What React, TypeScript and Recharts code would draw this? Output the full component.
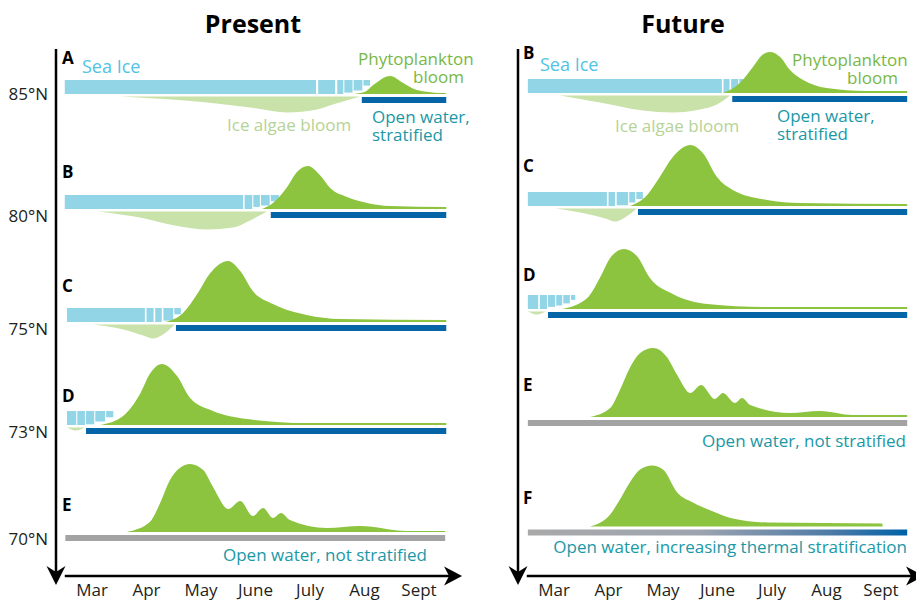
import React from "react";
import {
  ComposedChart,
  Area,
  XAxis,
  YAxis,
  ReferenceArea,
  ReferenceLine,
  ReferenceDot,
} from "recharts";

const FONT = "'Open Sans', 'Noto Sans', sans-serif";

// axis labels
const months = ["Mar", "Apr", "May", "June", "July", "Aug", "Sept"];
const monthTicks = [0, 1, 2, 3, 4, 5, 6];
const latLabels = ["85°N", "80°N", "75°N", "73°N", "70°N"];
const latLevels = [482, 360, 247, 144, 37];

// ---- Present ----
// bloom: [month, height]; algae: [month, depth]; floes: [start, end, thickness]
const presentBloomA = [[4.79, 0], [5.0, 2], [5.16, 9], [5.47, 18], [5.71, 11], [5.96, 4], [6.39, 1], [6.5, 0.8]];
const presentAlgaeA = [[0.51, 0], [2.11, 6], [3.03, 12], [3.58, 16], [4.13, 13], [4.42, 8], [4.92, 0]];
const presentIceA = [[-0.5, 4.11, 1], [4.15, 4.46, 1], [4.5, 4.61, 1], [4.63, 4.78, 0.9], [4.8, 4.96, 0.75], [4.98, 5.1, 0.4]];

const presentBloomB = [[3.12, 0], [3.32, 6], [3.58, 22], [3.76, 37], [3.96, 43], [4.18, 34], [4.37, 21], [4.68, 12], [5.05, 6], [5.47, 3], [6.5, 2]];
const presentAlgaeB = [[0.11, 0], [0.88, 6], [1.61, 15], [2.11, 18], [2.59, 16], [2.9, 9], [3.21, 0]];
const presentIceB = [[-0.5, 2.77, 1], [2.8, 2.94, 1], [2.96, 3.08, 0.85], [3.1, 3.26, 0.75], [3.28, 3.43, 0.45]];

const presentBloomC = [[1.34, 0], [1.67, 9], [1.93, 28], [2.17, 49], [2.5, 61], [2.72, 51], [2.95, 31], [3.32, 18], [3.94, 7], [4.55, 3], [6.5, 2]];
const presentAlgaeC = [[0.02, 0], [0.57, 5], [0.94, 11], [1.12, 14], [1.3, 10], [1.52, 0]];
const presentIceC = [[-0.46, 0.97, 1], [1.0, 1.13, 1], [1.16, 1.28, 1], [1.31, 1.49, 0.9], [1.51, 1.63, 0.45]];

const presentBloomD = [[0.15, 0], [0.57, 9], [0.88, 31], [1.06, 51], [1.28, 61], [1.56, 49], [1.8, 27], [2.22, 14], [2.84, 6], [3.94, 2], [6.5, 2]];
const presentAlgaeD = [[-0.46, 0], [-0.3, 3], [-0.13, 0]];
const presentIceD = [[-0.46, -0.29, 1], [-0.27, -0.13, 1], [-0.11, 0.04, 0.95], [0.06, 0.24, 0.75], [0.26, 0.39, 0.45]];

const presentBloomE = [[0.64, 0], [1.06, 10], [1.25, 29], [1.43, 52], [1.61, 64], [1.8, 68], [2.04, 62], [2.22, 45], [2.5, 23], [2.72, 31], [2.95, 16], [3.14, 24], [3.32, 14], [3.47, 19], [3.63, 12], [4.31, 4], [4.92, 6], [5.78, 1], [6.48, 1]];

const presentWater = [[4.95, 6.5], [3.28, 6.5], [1.54, 6.5], [-0.11, 6.5], [-0.49, 6.48]];

// ---- Future ----
const futureBloomB = [[3.1, 0], [3.41, 10], [3.65, 26], [3.82, 38], [3.96, 41], [4.15, 36], [4.33, 23], [4.57, 13], [5.0, 5], [5.74, 2], [6.48, 2]];
const futureAlgaeB = [[0.11, 0], [0.84, 7], [1.63, 15], [2.18, 17], [2.68, 14], [2.99, 9], [3.23, 0]];
const futureIceB = [[-0.48, 3.08, 1], [3.11, 3.22, 1], [3.25, 3.38, 0.85], [3.4, 3.52, 0.7], [3.54, 3.69, 0.5]];

const futureBloomC = [[1.39, 0], [1.71, 11], [1.94, 29], [2.18, 49], [2.5, 61], [2.73, 53], [2.99, 29], [3.28, 16], [3.91, 6], [4.51, 3], [6.48, 2]];
const futureAlgaeC = [[0.02, 0], [0.57, 5], [0.94, 10], [1.12, 13], [1.3, 9], [1.52, 0]];
const futureIceC = [[-0.48, 0.97, 1], [1.0, 1.12, 1], [1.15, 1.36, 0.95], [1.38, 1.49, 0.75], [1.51, 1.63, 0.5]];

const futureBloomD = [[0.15, 0], [0.61, 11], [0.84, 31], [1.03, 51], [1.28, 60], [1.52, 53], [1.76, 31], [2.18, 15], [2.81, 5], [3.91, 2], [6.48, 2]];
const futureAlgaeD = [[-0.48, 0], [-0.32, 3], [-0.15, 0]];
const futureIceD = [[-0.48, -0.29, 1], [-0.26, -0.13, 1], [-0.11, 0.02, 0.85], [0.04, 0.15, 0.75], [0.17, 0.29, 0.6], [0.31, 0.39, 0.35]];

const futureBloomE = [[0.66, 0], [1.03, 9], [1.21, 27], [1.39, 49], [1.58, 64], [1.82, 69], [2.07, 60], [2.26, 42], [2.5, 24], [2.7, 32], [2.95, 18], [3.1, 24], [3.32, 14], [3.45, 19], [3.6, 12], [4.33, 4], [4.88, 6], [5.49, 2], [6.48, 2]];
const futureBloomF = [[0.66, 0], [1.03, 12], [1.21, 27], [1.39, 44], [1.58, 57], [1.8, 61], [2.0, 57], [2.26, 34], [2.55, 24], [2.92, 15], [3.28, 8], [3.91, 4], [6.02, 3], [6.03, 0]];

const futureWater = [[3.27, 6.48], [1.54, 6.48], [-0.11, 6.48], [-0.48, 6.48], [-0.48, 6.48]];

// colours
const ICE = "#92d5e6";
const GREEN = "#8cc43f";
const ALGAE = "#c9e2aa";
const BLUE = "#0565a7";
const GRAY = "#a3a3a3";
const TEAL = "#1a98a6";

// layout
const W = 480;
const H = 603;
const X_DOMAIN = [-0.661, 6.807];
const Y_DOMAIN = [0, 527];
const ICE_H = 14;

interface Row {
  key: string;
  base: number;
  bloom: number[][];
  algae?: number[][];
  ice?: number[][];
  water: number[];
  waterFill: string;
}

const presentRows: Row[] = [
  { key: "A", base: 482, bloom: presentBloomA, algae: presentAlgaeA, ice: presentIceA, water: presentWater[0], waterFill: BLUE },
  { key: "B", base: 367, bloom: presentBloomB, algae: presentAlgaeB, ice: presentIceB, water: presentWater[1], waterFill: BLUE },
  { key: "C", base: 254, bloom: presentBloomC, algae: presentAlgaeC, ice: presentIceC, water: presentWater[2], waterFill: BLUE },
  { key: "D", base: 151, bloom: presentBloomD, algae: presentAlgaeD, ice: presentIceD, water: presentWater[3], waterFill: BLUE },
  { key: "E", base: 44, bloom: presentBloomE, water: presentWater[4], waterFill: GRAY },
];

const futureRows: Row[] = [
  { key: "B", base: 483, bloom: futureBloomB, algae: futureAlgaeB, ice: futureIceB, water: futureWater[0], waterFill: BLUE },
  { key: "C", base: 370, bloom: futureBloomC, algae: futureAlgaeC, ice: futureIceC, water: futureWater[1], waterFill: BLUE },
  { key: "D", base: 267, bloom: futureBloomD, algae: futureAlgaeD, ice: futureIceD, water: futureWater[2], waterFill: BLUE },
  { key: "E", base: 159, bloom: futureBloomE, water: futureWater[3], waterFill: GRAY },
  { key: "F", base: 49.5, bloom: futureBloomF, water: futureWater[4], waterFill: "url(#stratGrad)" },
];

const ArrowRight = (p: any) => (
  <polygon
    points={`${p.cx},${p.cy} ${p.cx - 18},${p.cy - 9.5} ${p.cx - 13},${p.cy} ${p.cx - 18},${p.cy + 9.5}`}
    fill="#000"
  />
);
const ArrowDown = (p: any) => (
  <polygon
    points={`${p.cx},${p.cy} ${p.cx - 9.5},${p.cy - 19} ${p.cx},${p.cy - 13} ${p.cx + 9.5},${p.cy - 19}`}
    fill="#000"
  />
);

function rowMarks(row: Row) {
  const { base } = row;
  const out: React.ReactNode[] = [];
  (row.ice || []).forEach(([x1, x2, t], i) => {
    out.push(
      <ReferenceArea
        key={`ice-${row.key}-${i}`}
        x1={x1}
        x2={x2}
        y1={base + ICE_H * (1 - t)}
        y2={base + ICE_H}
        fill={ICE}
        fillOpacity={1}
        stroke="none"
      />
    );
  });
  if (row.algae) {
    const top = base - 2.5;
    out.push(
      <Area
        key={`algae-${row.key}`}
        data={row.algae.map(([m, d]) => ({ m, v: top - d }))}
        dataKey="v"
        baseValue={top}
        type="monotone"
        fill={ALGAE}
        fillOpacity={1}
        stroke="none"
        isAnimationActive={false}
      />
    );
  }
  out.push(
    <Area
      key={`bloom-${row.key}`}
      data={row.bloom.map(([m, h]) => ({ m, v: base + h }))}
      dataKey="v"
      baseValue={base}
      type="monotone"
      fill={GREEN}
      fillOpacity={1}
      stroke="none"
      isAnimationActive={false}
    />
  );
  out.push(
    <ReferenceArea
      key={`water-${row.key}`}
      x1={row.water[0]}
      x2={row.water[1]}
      y1={base - 9}
      y2={base - 3}
      fill={row.waterFill}
      fillOpacity={1}
      stroke="none"
    />
  );
  return out;
}

function Panel({ rows, showLat, children }: { rows: Row[]; showLat: boolean; children?: React.ReactNode }) {
  return (
    <ComposedChart width={W} height={H} margin={{ top: 49, right: 17, bottom: 0, left: 0 }}>
      <defs>
        <linearGradient id="stratGrad" x1="0" y1="0" x2="1" y2="0">
          <stop offset="0%" stopColor="#a9a9a9" />
          <stop offset="45%" stopColor="#9ea4b0" />
          <stop offset="80%" stopColor="#4d7aa6" />
          <stop offset="100%" stopColor="#0061a8" />
        </linearGradient>
      </defs>
      <XAxis
        type="number"
        dataKey="m"
        domain={X_DOMAIN}
        allowDataOverflow
        ticks={monthTicks}
        interval={0}
        tickFormatter={(v: number) => months[v]}
        axisLine={false}
        tickLine={false}
        height={27}
        tick={{ fill: "#231f20", fontSize: 17, fontFamily: FONT }}
      />
      <YAxis
        type="number"
        domain={Y_DOMAIN}
        allowDataOverflow
        width={56}
        ticks={showLat ? latLevels : []}
        interval={0}
        tickFormatter={(v: number) => latLabels[latLevels.indexOf(v)]}
        axisLine={{ stroke: "#000", strokeWidth: 2.5 }}
        tickLine={false}
        tick={showLat ? { fill: "#231f20", fontSize: 17, fontFamily: FONT } : false}
      />
      {rows.map((r) => rowMarks(r))}
      <ReferenceLine
        segment={[{ x: -0.5, y: 0 }, { x: 6.6, y: 0 }]}
        stroke="#000"
        strokeWidth={2.5}
        ifOverflow="visible"
      />
      <ReferenceDot x={6.79} y={0} r={1} ifOverflow="visible" shape={ArrowRight} />
      <ReferenceDot x={X_DOMAIN[0]} y={-9} r={1} ifOverflow="visible" shape={ArrowDown} />
      {children}
    </ComposedChart>
  );
}

const txt = { fontFamily: FONT, fontSize: 17 };
const letter = { fontFamily: FONT, fontSize: 17, fontWeight: 700, fill: "#000" };

export default function App() {
  return (
    <div
      style={{
        position: "absolute",
        left: 0,
        top: 0,
        width: 916,
        height: 603,
        overflow: "hidden",
        background: "#fff",
      }}
    >
      <div style={{ position: "absolute", left: 0, top: 0 }}>
        <Panel rows={presentRows} showLat>
          <text x={253} y={33} textAnchor="middle" style={{ fontFamily: FONT, fontSize: 25, fontWeight: 700 }} fill="#000">
            Present
          </text>
          {presentRows.map((r, i) => (
            <text key={r.key} x={62} y={[64, 178, 292, 402, 511][i]} style={letter}>
              {r.key}
            </text>
          ))}
          <text x={82} y={73} style={{ ...txt, fontSize: 18 }} fill="#52c3e5">Sea Ice</text>
          <text x={358} y={65} style={txt} fill="#78b843">Phytoplankton</text>
          <text x={413} y={83} style={txt} fill="#78b843">bloom</text>
          <text x={227} y={131} style={txt} fill="#b5d395">Ice algae bloom</text>
          <text x={372} y={123} style={txt} fill={TEAL}>Open water,</text>
          <text x={372} y={141} style={txt} fill={TEAL}>stratified</text>
          <text x={223} y={561} style={txt} fill={TEAL}>Open water, not stratified</text>
        </Panel>
      </div>
      <div style={{ position: "absolute", left: 462, top: 0 }}>
        <Panel rows={futureRows} showLat={false}>
          <text x={221} y={33} textAnchor="middle" style={{ fontFamily: FONT, fontSize: 25, fontWeight: 700 }} fill="#000">
            Future
          </text>
          {futureRows.map((r, i) => (
            <text key={r.key} x={61} y={[59, 172, 281, 391, 504][i]} style={letter}>
              {r.key}
            </text>
          ))}
          <text x={78} y={71} style={{ ...txt, fontSize: 18 }} fill="#52c3e5">Sea Ice</text>
          <text x={330} y={66} style={txt} fill="#78b843">Phytoplankton</text>
          <text x={385} y={84} style={txt} fill="#78b843">bloom</text>
          <text x={153} y={132} style={txt} fill="#b5d395">Ice algae bloom</text>
          <text x={315} y={122} style={txt} fill={TEAL}>Open water,</text>
          <text x={315} y={140} style={txt} fill={TEAL}>stratified</text>
          <text x={444} y={447} textAnchor="end" style={txt} fill={TEAL}>Open water, not stratified</text>
          <text x={445} y={553} textAnchor="end" style={txt} fill={TEAL}>
            Open water, increasing thermal stratification
          </text>
        </Panel>
      </div>
    </div>
  );
}
